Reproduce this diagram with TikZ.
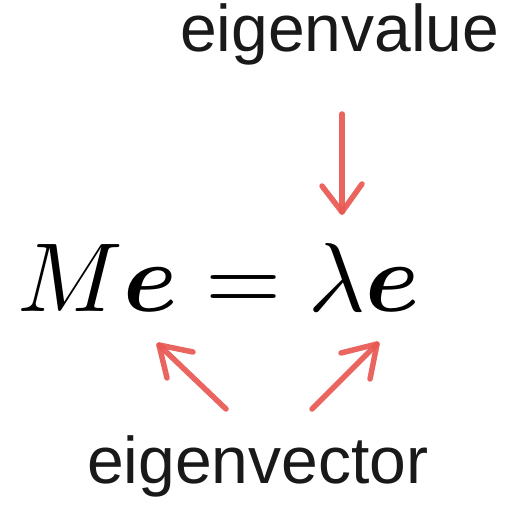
\documentclass[tikz,border=0pt]{standalone}
\usepackage{bm}
\usepackage{fontspec}
\newfontfamily\labelfont{Liberation Sans}
\definecolor{chalk}{RGB}{232,88,82}
\tikzset{
  lbl/.style={font=\labelfont\fontsize{66}{72}\selectfont, inner sep=0pt, anchor=base west, text=black!90},
  chalkline/.style={draw=chalk, line width=5.5pt, line cap=round, line join=round, opacity=0.92}
}
\begin{document}
\begin{tikzpicture}[x=1pt,y=-1pt]
\useasboundingbox (0,0) rectangle (507,508);
\node[lbl] (val) at (180,52) {eigenvalue};
\node[lbl] (vec) at (87,483) {eigenvector};
\node[inner sep=0pt, anchor=base west, scale=9.8] (eq) at (16,311) {$M\bm{e}=\lambda\bm{e}$};
% top arrow
\coordinate (t1) at (342,114);
\coordinate (t2) at (342,212);
\coordinate (tl) at (322,186);
\coordinate (tr) at (362,184);
\draw[chalkline] (t1) -- (t2);
\draw[chalkline] (tl) -- (t2) -- (tr);
% left arrow
\coordinate (l1) at (226,409);
\coordinate (l2) at (159,345);
\coordinate (ll) at (167,378);
\coordinate (lr) at (193,352);
\draw[chalkline] (l1) -- (l2);
\draw[chalkline] (ll) -- (l2) -- (lr);
% right arrow
\coordinate (r1) at (312,409);
\coordinate (r2) at (377,344);
\coordinate (rl) at (341,353);
\coordinate (rr) at (370,379);
\draw[chalkline] (r1) -- (r2);
\draw[chalkline] (rl) -- (r2) -- (rr);
\end{tikzpicture}
\end{document}
